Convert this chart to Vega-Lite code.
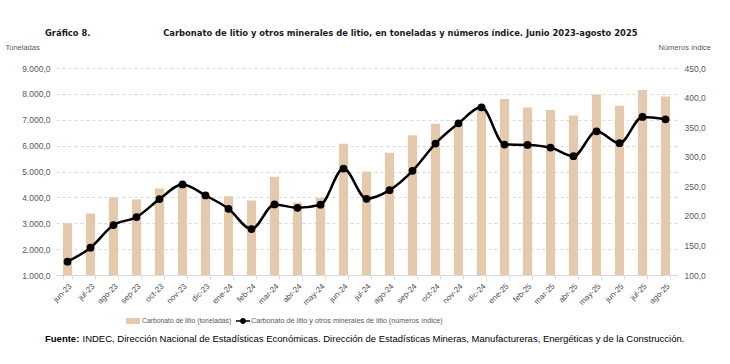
{
  "$schema": "https://vega.github.io/schema/vega-lite/v6.json",
  "autosize": {"type": "none"},
  "width": 621,
  "height": 207,
  "padding": {"left": 56, "top": 68, "right": 53, "bottom": 89},
  "background": "white",
  "config": {
    "locale": {"number": {"decimal": ",", "thousands": ".", "grouping": [3], "currency": ["$", ""]}},
    "view": {"stroke": null},
    "font": "Liberation Sans"
  },
  "title": {
    "text": "Gráfico 8.\u00a0\u00a0\u00a0\u00a0\u00a0\u00a0\u00a0\u00a0\u00a0\u00a0\u00a0\u00a0\u00a0\u00a0\u00a0\u00a0\u00a0\u00a0\u00a0\u00a0\u00a0\u00a0\u00a0\u00a0\u00a0Carbonato de litio y otros minerales de litio, en toneladas y números índice. Junio 2023-agosto 2025",
    "anchor": "start",
    "frame": "group",
    "dx": -11,
    "offset": 5,
    "limit": 0,
    "font": "DejaVu Sans Condensed",
    "fontSize": 9.3,
    "fontWeight": "bold",
    "color": "#1a1a1a"
  },
  "data": {
    "values": [
      {"mes": "jun-23", "ton": 3000, "idx": 122.6},
      {"mes": "jul-23", "ton": 3380, "idx": 146.2},
      {"mes": "ago-23", "ton": 4005, "idx": 184.4},
      {"mes": "sep-23", "ton": 3920, "idx": 197.9},
      {"mes": "oct-23", "ton": 4340, "idx": 228.3},
      {"mes": "nov-23", "ton": 4560, "idx": 253.1},
      {"mes": "dic-23", "ton": 4100, "idx": 234.5},
      {"mes": "ene-24", "ton": 4045, "idx": 212.0},
      {"mes": "feb-24", "ton": 3880, "idx": 177.6},
      {"mes": "mar-24", "ton": 4795, "idx": 219.3},
      {"mes": "abr-24", "ton": 3800, "idx": 213.7},
      {"mes": "may-24", "ton": 3985, "idx": 218.8},
      {"mes": "jun-24", "ton": 6070, "idx": 280.0},
      {"mes": "jul-24", "ton": 5000, "idx": 228.9},
      {"mes": "ago-24", "ton": 5720, "idx": 243.4},
      {"mes": "sep-24", "ton": 6400, "idx": 276.2},
      {"mes": "oct-24", "ton": 6850, "idx": 322.3},
      {"mes": "nov-24", "ton": 6860, "idx": 356.5},
      {"mes": "dic-24", "ton": 7520, "idx": 383.5},
      {"mes": "ene-25", "ton": 7800, "idx": 320.6},
      {"mes": "feb-25", "ton": 7470, "idx": 320.0},
      {"mes": "mar-25", "ton": 7380, "idx": 315.5},
      {"mes": "abr-25", "ton": 7160, "idx": 300.8},
      {"mes": "may-25", "ton": 7980, "idx": 343.0},
      {"mes": "jun-25", "ton": 7545, "idx": 322.8},
      {"mes": "jul-25", "ton": 8150, "idx": 367.3},
      {"mes": "ago-25", "ton": 7900, "idx": 363.3}
    ]
  },
  "encoding": {
    "x": {
      "field": "mes",
      "type": "nominal",
      "sort": null,
      "scale": {"paddingInner": 0.6, "paddingOuter": 0.3},
      "axis": {
        "title": null,
        "labelAngle": -45,
        "labelFontSize": 8,
        "labelColor": "#4d4d4d",
        "labelPadding": 3,
        "tickBand": "extent",
        "tickColor": "#d9d9d9",
        "tickSize": 4,
        "domainColor": "#d9d9d9",
        "grid": false
      }
    }
  },
  "layer": [
    {
      "mark": {"type": "bar", "clip": false},
      "encoding": {
        "y": {
          "field": "ton",
          "type": "quantitative",
          "scale": {"domain": [1000, 9000], "nice": false, "zero": false},
          "axis": {
            "title": "Toneladas",
            "titleAngle": 0,
            "titleAlign": "left",
            "titleBaseline": "middle",
            "titleX": -51,
            "titleY": -21,
            "titleFontSize": 7.5,
            "titleFontWeight": "normal",
            "titleColor": "#595959",
            "values": [1000, 2000, 3000, 4000, 5000, 6000, 7000, 8000, 9000],
            "format": ",.1f",
            "labelFontSize": 8.5,
            "labelColor": "#595959",
            "labelPadding": 6,
            "ticks": false,
            "domain": false,
            "grid": true,
            "gridColor": "#d9d9d9",
            "gridDash": [3, 3],
            "gridWidth": 1
          }
        },
        "y2": {"datum": 1000},
        "fill": {
          "datum": "Carbonato de litio (toneladas)",
          "scale": {"range": ["#e4c9ac"]},
          "legend": {
            "title": null,
            "orient": "none",
            "legendX": 72,
            "legendY": 248,
            "symbolType": "M-1.4,-0.6H1.4V0.6H-1.4Z",
            "symbolSize": 100,
            "symbolStrokeWidth": 0,
            "labelFontSize": 6.8,
            "labelColor": "#595959",
            "labelOffset": 4,
            "labelLimit": 400
          }
        }
      }
    },
    {
      "layer": [
        {
          "mark": {"type": "line", "interpolate": "monotone", "strokeWidth": 2.5},
          "encoding": {
            "y": {"field": "idx", "type": "quantitative"},
            "stroke": {
              "datum": "Carbonato de litio y otros minerales de litio (números índice)",
              "scale": {"range": ["#000000"]},
              "legend": {
                "title": null,
                "orient": "none",
                "legendX": 182,
                "legendY": 248,
                "symbolType": "M-1.4,-0.15H1.4V0.15H-1.4Z M0.6,0A0.6,0.6,0,1,1,-0.6,0A0.6,0.6,0,1,1,0.6,0Z",
                "symbolSize": 100,
                "symbolFillColor": "#000000",
                "symbolStrokeWidth": 0,
                "labelFontSize": 7.2,
                "labelColor": "#595959",
                "labelOffset": 3,
                "labelLimit": 400
              }
            }
          }
        },
        {
          "mark": {"type": "point", "filled": true, "size": 60, "color": "#000000", "opacity": 1},
          "encoding": {
            "y": {"field": "idx", "type": "quantitative"},
            "shape": {
              "datum": "INDEC, Dirección Nacional de Estadísticas Económicas. Dirección de Estadísticas Mineras, Manufactureras, Energéticas y de la Construcción.",
              "scale": {"range": ["circle"]},
              "legend": {
                "title": "Fuente:",
                "titleOrient": "left",
                "titleFontSize": 9.5,
                "titleFontWeight": "bold",
                "titleColor": "#000000",
                "titlePadding": 0,
                "orient": "none",
                "legendX": -11,
                "legendY": 266,
                "symbolOpacity": 0,
                "symbolSize": 1,
                "labelFontSize": 9.5,
                "labelColor": "#000000",
                "labelOffset": -7,
                "labelLimit": 1000
              }
            }
          }
        }
      ],
      "encoding": {
        "y": {
          "scale": {"domain": [100, 450], "nice": false, "zero": false},
          "axis": {
            "orient": "right",
            "title": "Números índice",
            "titleAngle": 0,
            "titleAlign": "left",
            "titleBaseline": "middle",
            "titleX": -19,
            "titleY": -21,
            "titleFontSize": 7.5,
            "titleFontWeight": "normal",
            "titleColor": "#595959",
            "values": [100, 150, 200, 250, 300, 350, 400, 450],
            "format": ",.1f",
            "labelFontSize": 8.5,
            "labelColor": "#595959",
            "labelPadding": 7,
            "ticks": false,
            "domain": false,
            "grid": false
          }
        }
      }
    }
  ],
  "resolve": {"scale": {"y": "independent"}}
}
